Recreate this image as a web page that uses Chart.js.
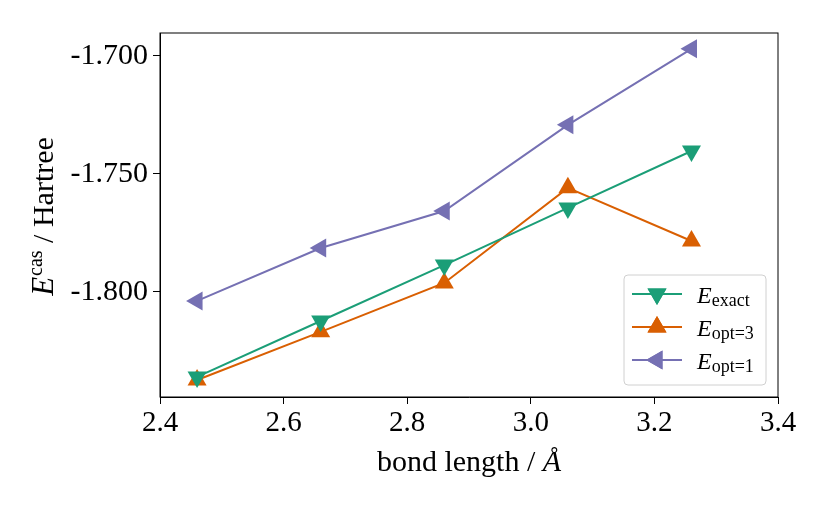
<!DOCTYPE html>
<html>
<head>
<meta charset="utf-8">
<script src="https://cdn.jsdelivr.net/npm/chart.js@4"></script>
<style>
  body { margin: 0; background: #fff; }
  #wrap { width: 830px; height: 512px; }
</style>
</head>
<body>
<div id="wrap"><canvas id="myChart"></canvas></div>
<script>
const bondLength = [2.46, 2.66, 2.86, 3.06, 3.26];
const eExact = [-1.8360, -1.8123, -1.7886, -1.7644, -1.7403];
const eOpt3 = [-1.8373, -1.8169, -1.7962, -1.7559, -1.7784];
const eOpt1 = [-1.8038, -1.7814, -1.7657, -1.7292, -1.6970];
const seriesNames = [['E', 'exact'], ['E', 'opt=3'], ['E', 'opt=1']];
const colors = ['#1b9e77', '#d95f02', '#7570b3'];

const serif = '"Liberation Serif", "DejaVu Serif", serif';

function pts(ys) {
    return bondLength.map((x, i) => ({x: x, y: ys[i]}));
}

// box, titles and legend drawn by hand (subscripts and italics)
const decor = {
    id: 'decor',
    afterDraw(chart) {
        const ctx = chart.ctx;
        const a = chart.chartArea;
        ctx.save();
        ctx.strokeStyle = '#000';
        ctx.lineWidth = 1;
        ctx.strokeRect(a.left, a.top, a.right - a.left, a.bottom - a.top);

        // x title
        ctx.fillStyle = '#000';
        ctx.textBaseline = 'alphabetic';
        const t1 = 'bond length / ';
        ctx.font = 'italic 30px ' + serif;
        const wA = ctx.measureText('Å').width;
        ctx.font = '30px ' + serif;
        const w1 = ctx.measureText(t1).width;
        let x0 = (a.left + a.right) / 2 - (w1 + wA) / 2;
        ctx.fillText(t1, x0, 471);
        ctx.font = 'italic 30px ' + serif;
        ctx.fillText('Å', x0 + w1, 471);

        // y title
        ctx.translate(53, 217);
        ctx.rotate(-Math.PI / 2);
        ctx.font = 'italic 31px ' + serif;
        const wE = ctx.measureText('E').width;
        ctx.font = '20px ' + serif;
        const wC = ctx.measureText('cas').width;
        ctx.font = '30px ' + serif;
        const wR = ctx.measureText(' / Hartree').width;
        x0 = -(wE + wC + wR) / 2;
        ctx.font = 'italic 31px ' + serif;
        ctx.fillText('E', x0, 0);
        ctx.font = '20px ' + serif;
        ctx.fillText('cas', x0 + wE + 1, -11);
        ctx.font = '30px ' + serif;
        ctx.fillText(' / Hartree', x0 + wE + wC + 1, 0);
        ctx.restore();

        // legend
        ctx.save();
        const lx = 624, ly = 275, lw = 142, lh = 110;
        ctx.beginPath();
        ctx.roundRect(lx, ly, lw, lh, 4);
        ctx.fillStyle = 'rgba(255,255,255,0.8)';
        ctx.fill();
        ctx.strokeStyle = '#d0d0d0';
        ctx.lineWidth = 1;
        ctx.stroke();
        chart.data.datasets.forEach((ds, i) => {
            const y = ly + 19 + i * 33;
            ctx.strokeStyle = ds.borderColor;
            ctx.lineWidth = 2;
            ctx.beginPath();
            ctx.moveTo(lx + 8, y);
            ctx.lineTo(lx + 58, y);
            ctx.stroke();
            ctx.fillStyle = ds.borderColor;
            ctx.beginPath();
            Chart.helpers.drawPoint(ctx, {
                pointStyle: 'triangle', radius: 11, rotation: ds.pointRotation, borderWidth: 0
            }, lx + 33, y);
            ctx.fill();
            ctx.fillStyle = '#000';
            ctx.font = 'italic 24px ' + serif;
            ctx.fillText(seriesNames[i][0], lx + 73, y + 9);
            const w = ctx.measureText(seriesNames[i][0]).width;
            ctx.font = '18px ' + serif;
            ctx.fillText(seriesNames[i][1], lx + 73 + w, y + 12);
        });
        ctx.restore();
    }
};

const ctx = document.getElementById('myChart').getContext('2d');
const myChart = new Chart(ctx, {
    type: 'line',
    data: {
        datasets: [
            { label: 'exact', data: pts(eExact), borderColor: colors[0], backgroundColor: colors[0], pointRotation: 180 },
            { label: 'opt=3', data: pts(eOpt3), borderColor: colors[1], backgroundColor: colors[1], pointRotation: 0 },
            { label: 'opt=1', data: pts(eOpt1), borderColor: colors[2], backgroundColor: colors[2], pointRotation: -90 }
        ].map(d => Object.assign(d, {
            borderWidth: 2, pointStyle: 'triangle', pointRadius: 11, pointBorderWidth: 0,
            pointBackgroundColor: d.borderColor, tension: 0
        }))
    },
    options: {
        responsive: true,
        maintainAspectRatio: false,
        animation: false,
        layout: { padding: { top: 33, right: 52, left: 0, bottom: 0 } },
        plugins: { legend: { display: false }, tooltip: { enabled: false } },
        scales: {
            x: {
                type: 'linear', min: 2.4, max: 3.4,
                afterFit: s => { s.height = 115; },
                border: { color: '#000', width: 1 },
                grid: { drawOnChartArea: false, tickLength: 7, tickColor: '#000' },
                ticks: {
                    stepSize: 0.2, color: '#000', padding: 2,
                    font: { family: serif, size: 29 },
                    callback: v => v.toFixed(1)
                }
            },
            y: {
                type: 'linear', min: -1.8445, max: -1.6903,
                afterFit: s => { s.width = 160; },
                border: { color: '#000', width: 1 },
                grid: { drawOnChartArea: false, tickLength: 7, tickColor: '#000' },
                ticks: {
                    stepSize: 0.05, includeBounds: false, color: '#000', padding: 5,
                    font: { family: serif, size: 30 },
                    callback: v => '-' + Math.abs(v).toFixed(3)
                }
            }
        }
    },
    plugins: [decor]
});
</script>
</body>
</html>
